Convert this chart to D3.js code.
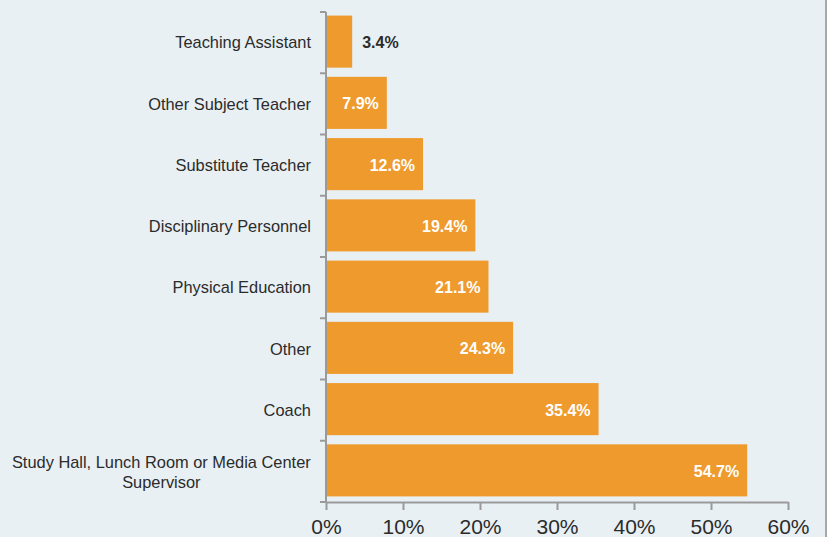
<!DOCTYPE html>
<meta charset="utf-8">
<style>
body { margin: 0; background: #e8f0f4; }
svg { display: block; font-family: Helvetica, Arial, "Liberation Sans", sans-serif; }
.axis path, .axis line { stroke: #9a9a9a; stroke-width: 2; }
</style>
<svg width="827" height="537"></svg>
<script src="https://d3js.org/d3.v7.min.js"></script>
<script>

var categories = ["Teaching Assistant", "Other Subject Teacher", "Substitute Teacher",
  "Disciplinary Personnel", "Physical Education", "Other", "Coach",
  "Study Hall, Lunch Room or Media Center Supervisor"];
var values = [3.4, 7.9, 12.6, 19.4, 21.1, 24.3, 35.4, 54.7];
var tickValues = [0, 10, 20, 30, 40, 50, 60];

var svg = d3.select("svg"),
    width = +svg.attr("width"),
    height = +svg.attr("height");

svg.append("rect").attr("width", width).attr("height", height).attr("fill", "#e8f0f4");
svg.append("line").attr("x1", width - 1).attr("x2", width - 1).attr("y1", 0).attr("y2", height)
    .attr("stroke", "#a8a8a8").attr("stroke-width", 2);

var x = d3.scaleLinear().domain([0, 60]).range([326, 788]);
var y = d3.scaleBand().domain(categories).range([12, 502]).paddingInner(0.15).paddingOuter(0.075);

// bars
svg.selectAll(".bar")
  .data(values)
  .enter().append("rect")
    .attr("class", "bar")
    .attr("x", x(0))
    .attr("y", function(d, i) { return y(categories[i]) - 1; })
    .attr("width", function(d) { return x(d) - x(0); })
    .attr("height", y.bandwidth())
    .attr("fill", "#ef9a2d");

// value labels
svg.selectAll(".val")
  .data(values)
  .enter().append("text")
    .attr("class", "val")
    .attr("x", function(d) { return d < 5 ? x(d) + 10 : x(d) - 8; })
    .attr("y", function(d, i) { return y(categories[i]) + y.bandwidth() / 2; })
    .attr("dy", "0.35em")
    .attr("text-anchor", function(d) { return d < 5 ? "start" : "end"; })
    .attr("font-size", 16)
    .attr("font-weight", "bold")
    .attr("fill", function(d) { return d < 5 ? "#2b2b2b" : "#fff"; })
    .text(function(d) { return d.toFixed(1) + "%"; });

// y axis line with ticks at band edges
var yAxis = svg.append("g").attr("class", "axis");
yAxis.append("path").attr("d", "M" + x(0) + ",12V502").attr("fill", "none");
var edges = d3.range(categories.length + 1).map(function(i) { return 12 + i * (490 / categories.length); });
yAxis.selectAll("line")
  .data(edges)
  .enter().append("line")
    .attr("x1", x(0) - 6).attr("x2", x(0))
    .attr("y1", function(d) { return d; }).attr("y2", function(d) { return d; });

// category labels
var labels = svg.append("g");
categories.forEach(function(c, i) {
  var cy = y(c) + y.bandwidth() / 2;
  if (c.length > 30) {
    var lines = ["Study Hall, Lunch Room or Media Center", "Supervisor"];
    var t = labels.append("text").attr("font-size", 16.4).attr("fill", "#2b2b2b")
        .attr("text-anchor", "middle");
    t.append("tspan").attr("x", 0).attr("y", cy - 9).attr("dy", "0.35em").text(lines[0]);
    t.append("tspan").attr("x", 0).attr("y", cy + 11).attr("dy", "0.35em").text(lines[1]);
    var w = t.node().getBBox().width;
    t.attr("transform", "translate(" + (311 - w / 2) + ",0)");
  } else {
    labels.append("text")
      .attr("x", 311).attr("y", cy).attr("dy", "0.35em")
      .attr("text-anchor", "end").attr("font-size", 16.4).attr("fill", "#2b2b2b")
      .text(c);
  }
});

// x axis
var xAxis = svg.append("g")
    .attr("class", "axis")
    .attr("transform", "translate(0,502)")
    .call(d3.axisBottom(x).tickValues(tickValues).tickSize(8).tickSizeOuter(0)
      .tickFormat(function(d) { return d + "%"; }));
xAxis.selectAll("text")
    .attr("font-size", 21)
    .attr("fill", "#2b2b2b")
    .attr("font-family", "Helvetica, Arial, 'Liberation Sans', sans-serif")
    .attr("y", 17);

</script>
